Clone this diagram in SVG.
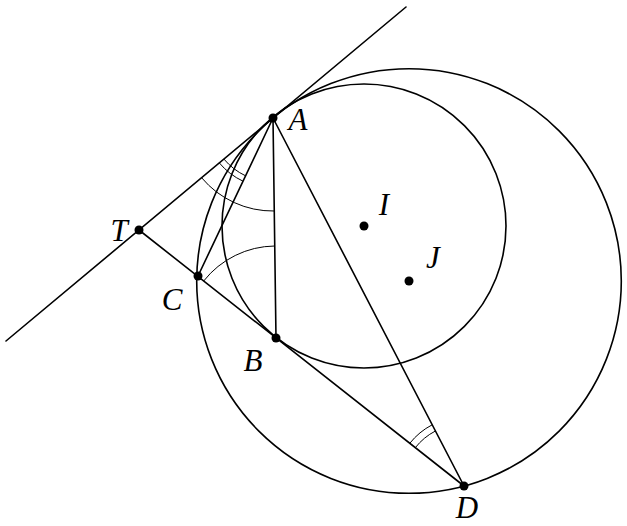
<svg xmlns="http://www.w3.org/2000/svg" width="627" height="526" viewBox="0 0 627 526">
<style>
.ln{stroke:#000;stroke-width:1.6;fill:none;stroke-linecap:round}
.arc{stroke:#000;stroke-width:1;fill:none}
.pt{fill:#000}
.lb{font-family:"Liberation Serif","DejaVu Serif",serif;font-style:italic;font-size:31px;fill:#000;text-anchor:middle}
</style>
<rect width="627" height="526" fill="#fff"/>
<g id="connectors">
<circle class="ln" cx="364" cy="226" r="142"/>
<circle class="ln" cx="409" cy="281" r="212.3"/>
<line class="ln" x1="6" y1="341" x2="406" y2="7"/>
<line class="ln" x1="139" y1="230" x2="464" y2="486"/>
<line class="ln" x1="273" y1="118" x2="198" y2="276"/>
<line class="ln" x1="273" y1="118" x2="276" y2="338"/>
<line class="ln" x1="273" y1="118" x2="464" y2="486"/>
<path class="arc" d="M201.6,177.7 A93,93 0 0 0 274.3,211"/>
<path class="arc" d="M223.9,159.05 A64,64 0 0 0 245.56,175.8"/>
<path class="arc" d="M219.3,162.9 A70,70 0 0 0 243.0,181.2"/>
<path class="arc" d="M203.7,281 A92,92 0 0 1 274.7,246"/>
<path class="arc" d="M415.3,447.7 A62,62 0 0 1 435.4,431.0"/>
<path class="arc" d="M409.8,443.3 A69,69 0 0 1 432.2,424.8"/>
</g>
<g id="A"><circle class="pt" cx="273" cy="118" r="4.5"/><text class="lb" x="298" y="130">A</text></g>
<g id="T"><circle class="pt" cx="139" cy="230" r="4.5"/><text class="lb" x="119" y="241">T</text></g>
<g id="C"><circle class="pt" cx="198" cy="276" r="4.5"/><text class="lb" x="172" y="310">C</text></g>
<g id="B"><circle class="pt" cx="276" cy="338" r="4.5"/><text class="lb" x="253" y="371">B</text></g>
<g id="D"><circle class="pt" cx="464" cy="486" r="4.5"/><text class="lb" x="467" y="518">D</text></g>
<g id="I"><circle class="pt" cx="364" cy="226" r="4.5"/><text class="lb" x="384" y="215">I</text></g>
<g id="J"><circle class="pt" cx="409" cy="281" r="4.5"/><text class="lb" x="433" y="268">J</text></g>
</svg>
